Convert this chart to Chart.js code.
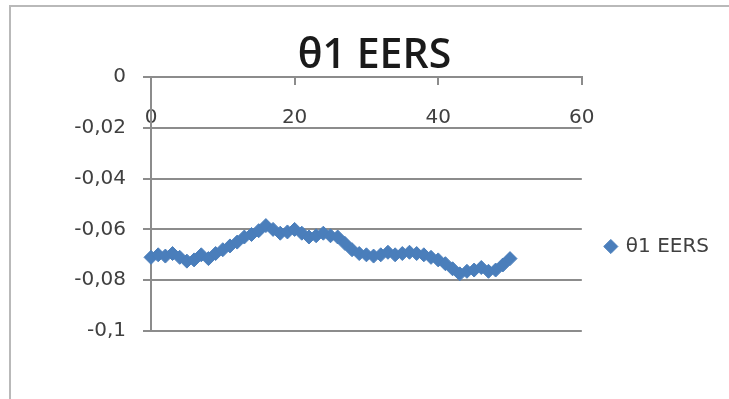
<!DOCTYPE html>
<html>
<head>
<meta charset="utf-8">
<title>θ1 EERS</title>
<script src="https://cdn.jsdelivr.net/npm/chart.js@4"></script>
<style>
  html, body { margin: 0; padding: 0; background: #ffffff; }
  #wrap { width: 729px; height: 399px; position: relative; }
</style>
</head>
<body>
<div id="wrap"><canvas id="chart" width="729" height="399"></canvas></div>
<script>
// Series: θ1 EERS per step
const seriesName = 'θ1 EERS';
const xValues = [
  0, 1, 2, 3, 4, 5, 6, 7, 8, 9,
  10, 11, 12, 13, 14, 15, 16, 17, 18, 19,
  20, 21, 22, 23, 24, 25, 26, 27, 28, 29,
  30, 31, 32, 33, 34, 35, 36, 37, 38, 39,
  40, 41, 42, 43, 44, 45, 46, 47, 48, 49,
  50
];
const yValues = [
  -0.0710, -0.0700, -0.0705, -0.0695, -0.0710, -0.0725, -0.0720, -0.0700, -0.0715, -0.0695,
  -0.0680, -0.0665, -0.0650, -0.0630, -0.0620, -0.0605, -0.0585, -0.0600, -0.0615, -0.0610,
  -0.0600, -0.0615, -0.0630, -0.0625, -0.0615, -0.0625, -0.0630, -0.0655, -0.0680, -0.0695,
  -0.0700, -0.0705, -0.0700, -0.0690, -0.0700, -0.0695, -0.0690, -0.0695, -0.0700, -0.0710,
  -0.0720, -0.0735, -0.0755, -0.0775, -0.0765, -0.0760, -0.0750, -0.0765, -0.0760, -0.0740,
  -0.0715
];

// Axis ticks and their printed labels (decimal comma)
const xTicks = [0, 20, 40, 60];
const xTickLabels = ['0', '20', '40', '60'];
const yTicks = [0, -0.02, -0.04, -0.06, -0.08, -0.1];
const yTickLabels = ['0', '-0,02', '-0,04', '-0,06', '-0,08', '-0,1'];

const BLUE = '#4a7ebb';
const GRID = '#8c8c8c';
const TEXT = '#404040';

function labelFor(ticks, labels, value) {
  for (let i = 0; i < ticks.length; i++) {
    if (Math.abs(ticks[i] - value) < 1e-9) return labels[i];
  }
  return '';
}

// Thin frame around the chart object (clipped on the right and bottom)
const framePlugin = {
  id: 'frame',
  beforeDraw(chart) {
    const ctx = chart.ctx;
    ctx.save();
    ctx.strokeStyle = '#b9b9b9';
    ctx.lineWidth = 2;
    ctx.beginPath();
    ctx.moveTo(10, chart.height);
    ctx.lineTo(10, 6);
    ctx.lineTo(chart.width, 6);
    ctx.stroke();
    ctx.restore();
  }
};

// Centre the title on the framed object and move the legend beside the lower plot
const placementPlugin = {
  id: 'placement',
  afterLayout(chart) {
    const t = chart.titleBlock;
    if (t) { t.left = 20; t.right = chart.width; }
    const lg = chart.legend;
    if (lg) {
      const dy = 81, dx = 14;
      lg.top += dy; lg.bottom += dy;
      lg.left += dx; lg.right += dx;
    }
  }
};

new Chart(document.getElementById('chart'), {
  type: 'line',
  data: {
    datasets: [{
      label: seriesName,
      data: xValues.map((x, i) => ({ x: x, y: yValues[i] })),
      borderColor: BLUE,
      backgroundColor: BLUE,
      borderWidth: 3,
      pointStyle: 'rectRot',
      pointRadius: 7,
      pointBorderWidth: 1,
      pointBackgroundColor: BLUE,
      pointBorderColor: BLUE,
      tension: 0,
      clip: false
    }]
  },
  options: {
    responsive: false,
    animation: false,
    devicePixelRatio: 1,
    layout: { padding: { left: 0, right: 24, top: 0, bottom: 68 } },
    plugins: {
      title: {
        display: true,
        text: seriesName,
        color: '#1a1a1a',
        font: { family: 'Open Sans', size: 41, weight: '600', lineHeight: 1.0 },
        padding: { top: 36, bottom: 0 }
      },
      legend: {
        display: true,
        position: 'right',
        labels: {
          usePointStyle: true,
          boxWidth: 10,
          boxHeight: 10,
          padding: 10,
          color: TEXT,
          font: { family: 'DejaVu Sans', size: 20 }
        }
      },
      tooltip: { enabled: false }
    },
    scales: {
      x: {
        type: 'linear',
        position: 'top',
        min: 0,
        max: 60,
        afterFit(scale) { scale.height = 0; },
        afterBuildTicks(scale) { scale.ticks = xTicks.map(v => ({ value: v })); },
        ticks: {
          mirror: true,
          padding: 29,
          color: TEXT,
          font: { family: 'DejaVu Sans', size: 20 },
          maxRotation: 0,
          callback: (v) => labelFor(xTicks, xTickLabels, v)
        },
        grid: {
          drawOnChartArea: false,
          drawTicks: true,
          tickLength: -8,
          color: GRID,
          lineWidth: 2
        },
        border: { display: true, color: GRID, width: 2 }
      },
      y: {
        type: 'linear',
        min: -0.1,
        max: 0,
        afterFit(scale) { scale.width = 151; },
        afterBuildTicks(scale) { scale.ticks = yTicks.map(v => ({ value: v })); },
        ticks: {
          padding: 17,
          color: TEXT,
          font: { family: 'DejaVu Sans', size: 20 },
          callback: (v) => labelFor(yTicks, yTickLabels, v)
        },
        grid: {
          color: GRID,
          lineWidth: 2,
          tickLength: 8,
          drawTicks: true
        },
        border: { display: true, color: GRID, width: 2 }
      }
    }
  },
  plugins: [framePlugin, placementPlugin]
});
</script>
</body>
</html>
